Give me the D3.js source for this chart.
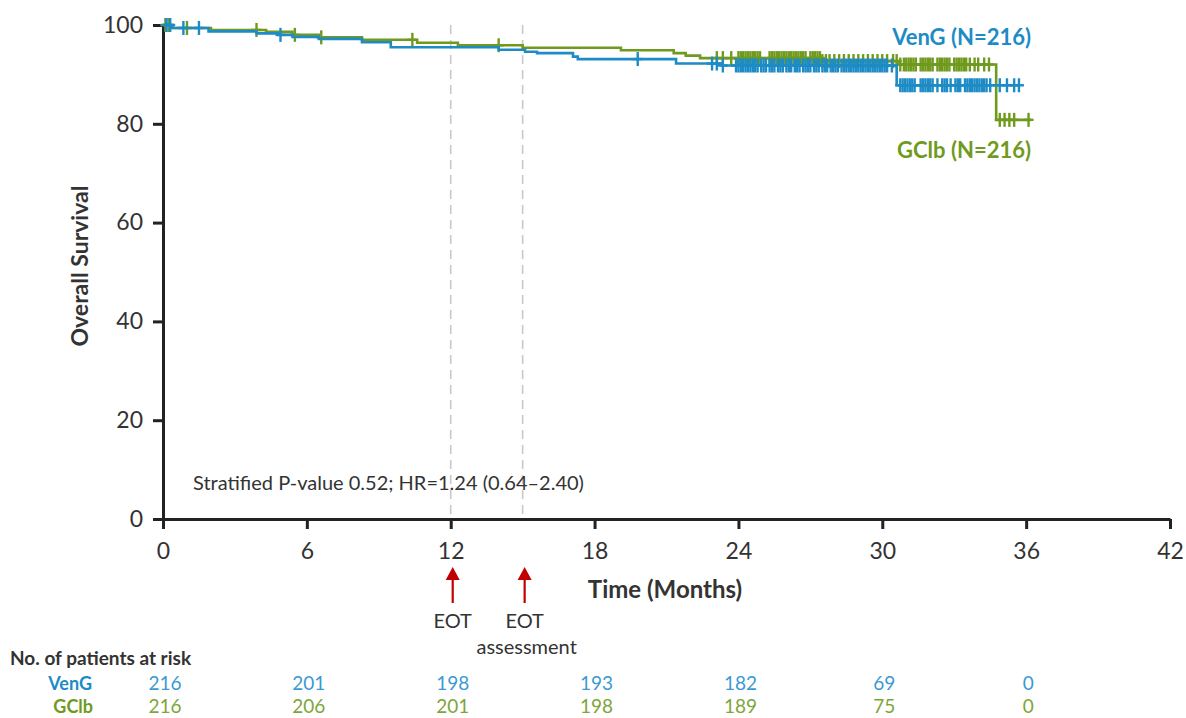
<!DOCTYPE html>
<html><head><meta charset="utf-8">
<script src="https://cdn.jsdelivr.net/npm/d3@7"></script>
<style>
body{margin:0;background:#fff;}
svg{display:block;font-family:Lato, "Open Sans", sans-serif;}
</style></head>
<body><svg id="c" width="1186" height="718"></svg>
<script>
// ---- data ----
const xTicks = [0, 6, 12, 18, 24, 30, 36, 42];
const yTicks = [0, 20, 40, 60, 80, 100];
const series = ["VenG (N=216)", "GClb (N=216)"];
// VenG step curve: event times (months) and survival (%) after each step
const vengTimes = [0, 0.4, 1.9, 3.9, 4.8, 5.4, 6.5, 8.3, 9.5, 14.0, 15.1, 15.6, 17.1, 17.3, 21.4, 23.3, 30.6];
const vengSurv  = [100, 99.4, 98.7, 98.3, 98.0, 97.6, 97.2, 96.5, 95.5, 95.0, 94.6, 94.3, 93.6, 93.1, 92.2, 91.8, 87.8];
const vengEnd = 35.7;
const vengCensor = [0.15, 0.3, 0.85, 1.5, 4.9, 19.8,
  22.9, 23.1, 23.35, 23.9, 24.0, 24.1, 24.2, 24.3, 24.4, 24.5, 24.6, 24.7, 24.8, 24.95, 25.05, 25.15, 25.3, 25.4, 25.5, 25.65, 25.75, 25.85,
  26.0, 26.1, 26.2, 26.35, 26.45, 26.55, 26.7, 26.8, 26.9, 27.0, 27.15, 27.25, 27.35, 27.5, 27.6, 27.7, 27.85, 27.95, 28.05, 28.15, 28.3, 28.4, 28.5,
  28.6, 28.7, 28.8, 28.9, 29.0, 29.1, 29.2, 29.3, 29.4, 29.5, 29.6, 29.7, 29.8, 29.9, 30.0, 30.1, 30.2, 30.4,
  30.75, 30.85, 30.95, 31.05, 31.15, 31.25, 31.35, 31.6, 31.7, 31.8, 31.9, 32.0, 32.1, 32.3, 32.5, 32.6, 32.7, 32.85, 33.05, 33.15, 33.25,
  33.45, 33.55, 33.65, 33.75, 33.85, 33.95, 34.05, 34.15, 34.25, 34.35, 34.5, 34.9, 35.2, 35.5, 35.7];
// GClb step curve
const gclbTimes = [0, 0.3, 2.0, 4.3, 5.4, 6.5, 8.3, 10.6, 12.3, 15.0, 19.1, 21.3, 21.8, 22.4, 27.5, 30.7, 34.75];
const gclbSurv  = [100, 99.4, 99.0, 98.6, 98.0, 97.5, 97.0, 96.4, 95.9, 95.4, 94.9, 94.3, 93.8, 93.3, 92.7, 92.0, 80.8];
const gclbEnd = 36.2;
const gclbCensor = [0.1, 0.25, 1.0, 3.9, 5.5, 6.6, 10.4, 14.0,
  23.1, 23.35, 23.7, 24.0, 24.1, 24.2, 24.3, 24.4, 24.5, 24.6, 24.7, 24.8, 24.9, 25.3, 25.4, 25.5, 25.6, 25.7, 25.8, 25.9, 26.0, 26.1,
  26.2, 26.3, 26.4, 26.5, 26.6, 26.7, 26.8, 27.0, 27.1, 27.2, 27.3, 27.4, 27.5, 27.65, 27.8, 28.0, 28.2, 28.4, 28.6, 28.8,
  29.0, 29.2, 29.4, 29.6, 29.8, 30.0, 30.2, 30.45, 30.6, 30.75, 30.9, 31.0, 31.1, 31.2, 31.3, 31.4, 31.6, 31.7, 31.8, 31.9, 32.0, 32.1,
  32.3, 32.4, 32.5, 32.6, 32.7, 32.8, 33.0, 33.1, 33.2, 33.3, 33.4, 33.5, 33.65, 33.85, 34.0, 34.25, 34.45,
  34.9, 35.1, 35.3, 35.5, 36.1];
const riskTimes = [0, 6, 12, 18, 24, 30, 36];
const riskVenG = [216, 201, 198, 193, 182, 69, 0];
const riskGClb = [216, 206, 201, 198, 189, 75, 0];
const eotLines = [12, 15];

// ---- drawing ----
const BLUE = "#1d8bc6", GREEN = "#6f9a1e", BLUE_T = "#3b9ad0", GREEN_T = "#7ea53a", TXT = "#333";
const svg = d3.select("#c");
const x = d3.scaleLinear().domain([0, 42]).range([163, 1170]);
const y = d3.scaleLinear().domain([0, 100]).range([519, 25]);

// dashed reference lines
svg.selectAll(".ref").data(eotLines).join("line")
  .attr("x1", d => x(d)).attr("x2", d => x(d))
  .attr("y1", y(100)).attr("y2", y(0))
  .attr("stroke", "#c8c8c8").attr("stroke-width", 1.6).attr("stroke-dasharray", "9,6");

// axes
const xa = svg.append("g").attr("transform", `translate(0,${y(0)})`)
  .call(d3.axisBottom(x).tickValues(xTicks).tickSize(10).tickSizeOuter(0).tickPadding(14));
const ya = svg.append("g").attr("transform", `translate(${x(0)},0)`)
  .call(d3.axisLeft(y).tickValues(yTicks).tickSize(10).tickSizeOuter(0).tickPadding(10));
[xa, ya].forEach(g => {
  g.select(".domain").attr("stroke", "#222").attr("stroke-width", 3);
  g.selectAll(".tick line").attr("stroke", "#222").attr("stroke-width", 3);
  g.selectAll(".tick text").attr("fill", TXT).attr("font-size", 23).attr("font-family", "Lato, sans-serif");
});

function stepPath(times, surv, end) {
  const pts = [];
  for (let i = 0; i < times.length; i++) {
    if (i > 0) pts.push([times[i], surv[i - 1]]);
    pts.push([times[i], surv[i]]);
  }
  pts.push([end, surv[surv.length - 1]]);
  return d3.line().x(d => x(d[0])).y(d => y(d[1]))(pts);
}
function valueAt(times, surv, t) {
  const i = d3.bisectRight(times, t) - 1;
  return surv[Math.max(0, i)];
}
function drawSeries(times, surv, end, censor, color) {
  svg.append("path").attr("d", stepPath(times, surv, end))
    .attr("fill", "none").attr("stroke", color).attr("stroke-width", 2.6);
  const g = svg.append("g").attr("stroke", color).attr("stroke-width", 2.4);
  censor.forEach(t => {
    const cx = x(t), cy = y(valueAt(times, surv, t));
    g.append("line").attr("x1", cx).attr("x2", cx).attr("y1", cy - 7).attr("y2", cy + 7);
    g.append("line").attr("x1", cx - 5).attr("x2", cx + 5).attr("y1", cy).attr("y2", cy);
  });
}
drawSeries(gclbTimes, gclbSurv, gclbEnd, gclbCensor, GREEN);
drawSeries(vengTimes, vengSurv, vengEnd, vengCensor, BLUE);

// series labels
svg.append("text").attr("x", 1031).attr("y", 45).attr("text-anchor", "end")
  .attr("font-size", 22).attr("font-weight", "bold").attr("fill", BLUE).text(series[0]);
svg.append("text").attr("x", 1031).attr("y", 158).attr("text-anchor", "end")
  .attr("font-size", 22).attr("font-weight", "bold").attr("fill", GREEN).text(series[1]);

// axis titles
svg.append("text").attr("transform", "translate(88,266) rotate(-90)").attr("text-anchor", "middle")
  .attr("font-size", 23).attr("font-weight", "bold").attr("fill", TXT).text("Overall Survival");
svg.append("text").attr("x", 665).attr("y", 598).attr("text-anchor", "middle")
  .attr("font-size", 24).attr("font-weight", "bold").attr("fill", TXT).text("Time (Months)");

// annotation
svg.append("text").attr("x", 193).attr("y", 490).attr("font-size", 20).attr("fill", TXT)
  .text("Stratified P-value 0.52; HR=1.24 (0.64\u20132.40)");

// EOT arrows
const arrowX = [x(12) + 2, x(15) + 2];
arrowX.forEach(ax => {
  svg.append("line").attr("x1", ax).attr("x2", ax).attr("y1", 578).attr("y2", 603)
    .attr("stroke", "#c00000").attr("stroke-width", 2.2);
  svg.append("path").attr("d", `M${ax},567 L${ax - 7},580 L${ax + 7},580 Z`).attr("fill", "#c00000");
});
svg.append("text").attr("x", arrowX[0]).attr("y", 628).attr("text-anchor", "middle")
  .attr("font-size", 20).attr("fill", TXT).text("EOT");
svg.append("text").attr("x", arrowX[1]).attr("y", 628).attr("text-anchor", "middle")
  .attr("font-size", 20).attr("fill", TXT).text("EOT");
svg.append("text").attr("x", arrowX[1] + 2).attr("y", 654).attr("text-anchor", "middle")
  .attr("font-size", 20).attr("fill", TXT).text("assessment");

// risk table
svg.append("text").attr("x", 10).attr("y", 665).attr("font-size", 19).attr("font-weight", "bold")
  .attr("fill", TXT).text("No. of patients at risk");
svg.append("text").attr("x", 92).attr("y", 690).attr("text-anchor", "end").attr("font-size", 18)
  .attr("font-weight", "bold").attr("fill", BLUE).text("VenG");
svg.append("text").attr("x", 93).attr("y", 713).attr("text-anchor", "end").attr("font-size", 18)
  .attr("font-weight", "bold").attr("fill", GREEN).text("GClb");
svg.selectAll(".rv").data(riskTimes).join("text")
  .attr("x", d => x(d) + 2).attr("y", 690).attr("text-anchor", "middle").attr("font-size", 19)
  .attr("fill", BLUE_T).text((d, i) => riskVenG[i]);
svg.selectAll(".rg").data(riskTimes).join("text")
  .attr("x", d => x(d) + 2).attr("y", 713).attr("text-anchor", "middle").attr("font-size", 19)
  .attr("fill", GREEN_T).text((d, i) => riskGClb[i]);
</script></body></html>
